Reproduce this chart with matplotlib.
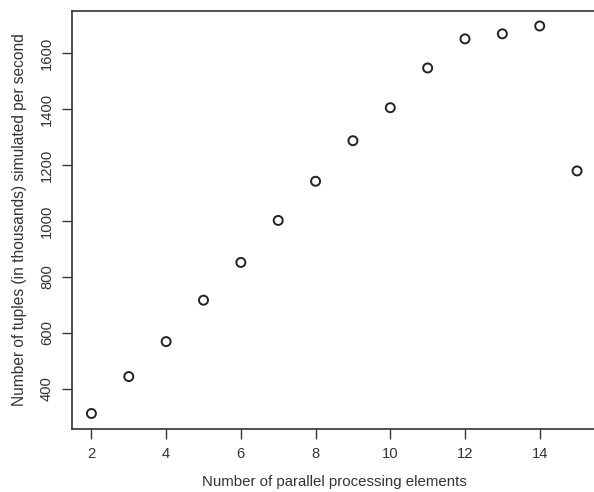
import matplotlib
matplotlib.use("Agg")
import matplotlib.pyplot as plt

plt.rcParams['font.family'] = ['Liberation Sans', 'DejaVu Sans']

elements = [2, 3, 4, 5, 6, 7, 8, 9, 10, 11, 12, 13, 14, 15]
tuples_k = [312, 444, 569, 717, 852, 1002, 1142, 1287, 1405, 1547, 1651, 1669, 1697, 1179]
xticks = [2, 4, 6, 8, 10, 12, 14]
yticks = [400, 600, 800, 1000, 1200, 1400, 1600]

W, H = 594, 492
fig = plt.figure(figsize=(W / 100, H / 100), dpi=100)
ax = fig.add_axes([72 / W, 1 - 429 / H, (596.5 - 72) / W, (429 - 10.5) / H])

ax.scatter(elements, tuples_k, s=42, facecolors='none', edgecolors='#222222', linewidths=1.4, zorder=3)

xr = max(elements) - min(elements)
yr = max(tuples_k) - min(tuples_k)
ax.set_xlim(min(elements) - 0.04 * xr, max(elements) + 0.04 * xr)
ax.set_ylim(min(tuples_k) - 0.04 * yr, max(tuples_k) + 0.04 * yr)

ax.set_xticks(xticks)
ax.set_yticks(yticks)
ax.set_yticklabels([str(v) for v in yticks], rotation=90, va='center')
ax.tick_params(axis='both', direction='out', length=7, width=1, color='#333333',
               labelsize=10.6, labelcolor='#333333', pad=6)

for s in ax.spines.values():
    s.set_linewidth(1.2)
    s.set_color('#333333')

ax.set_xlabel('Number of parallel processing elements', fontsize=10.8, color='#333333', labelpad=10)
ax.set_ylabel('Number of tuples (in thousands) simulated per second', fontsize=11.2, color='#333333', labelpad=9)

fig.savefig('out.png', dpi=100)
